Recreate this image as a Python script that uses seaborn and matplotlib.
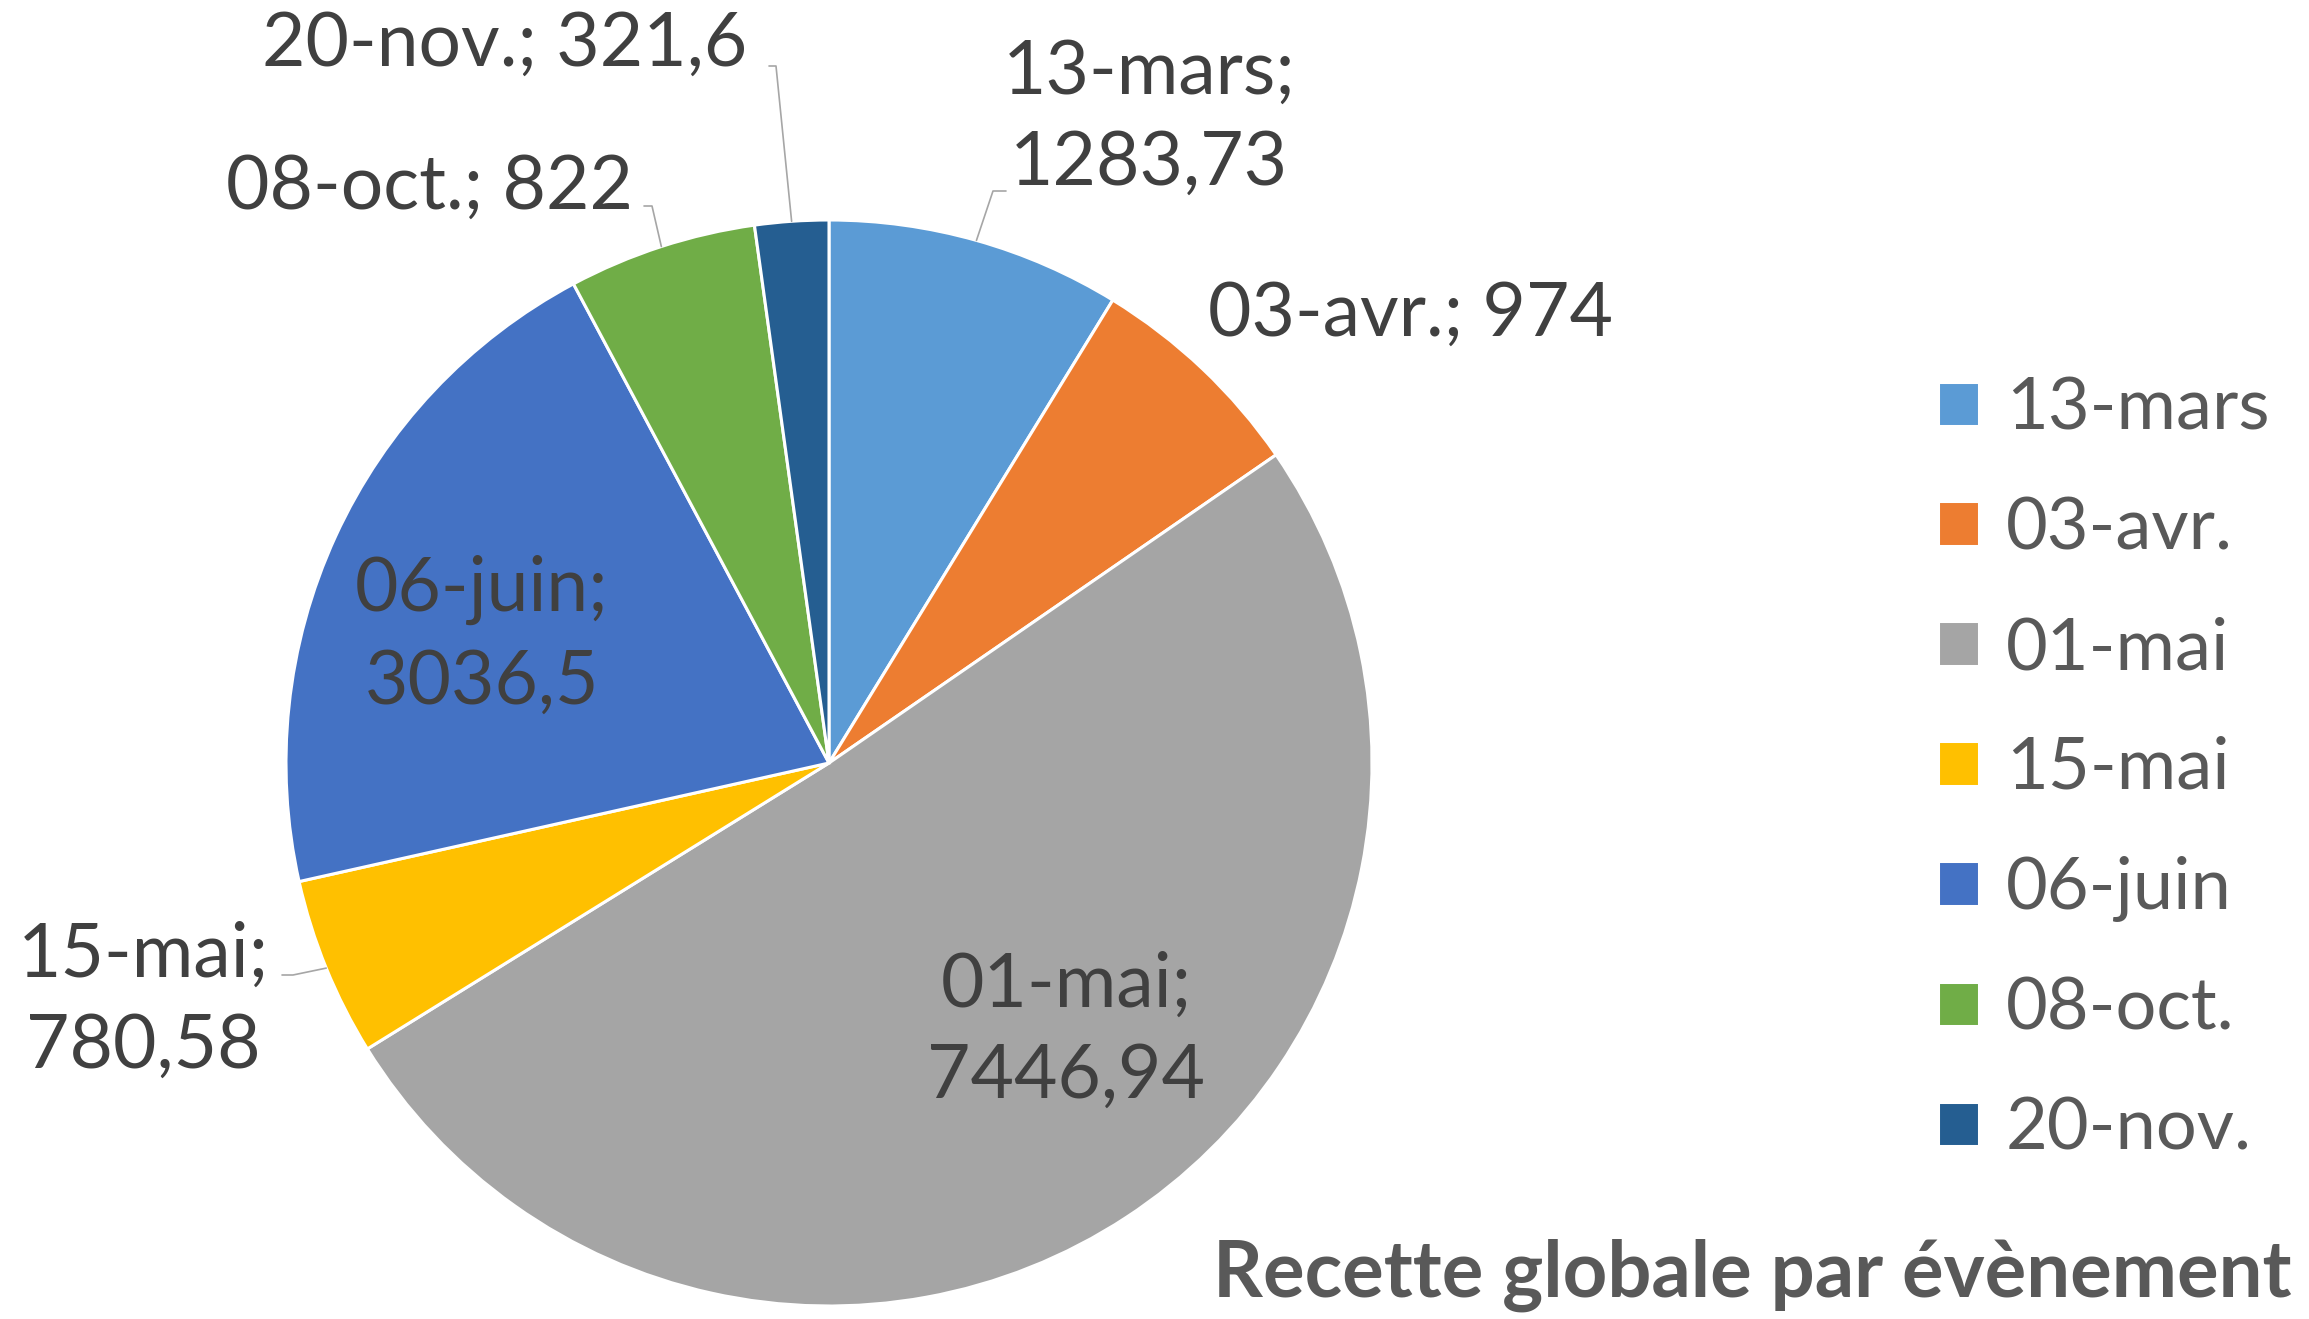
import matplotlib
matplotlib.use("Agg")
import matplotlib.pyplot as plt
import numpy as np
import seaborn as sns

# data
events = ["13-mars", "03-avr.", "01-mai", "15-mai", "06-juin", "08-oct.", "20-nov."]
recette = [1283.73, 974, 7446.94, 780.58, 3036.5, 822, 321.6]
value_labels = ["1283,73", "974", "7446,94", "780,58", "3036,5", "822", "321,6"]
colors = ["#5B9BD5", "#ED7D31", "#A5A5A5", "#FFC000", "#4472C4", "#70AD47", "#255E91"]

# label layout (pixel space, origin bottom-left), one line or two
label_pos = [(1149, 1201), (1411, 1005), (1066, 288), (143, 318), (482, 683), (429, 1132), (505, 1275)]
two_lines = [True, False, True, True, True, False, False]
# leader lines: elbow and end point, None when label sits inside
leaders = [((993, 1128), (1006, 1128)), None, None, ((293, 344), (282, 344)),
           None, ((652, 1113), (644, 1113)), ((776, 1253), (769, 1253))]

W, H = 2309, 1319
CX, CY, R = 829, 556, 543

sns.set_theme(style="white")
plt.rcParams["font.family"] = ["Lato", "DejaVu Sans"]

fig = plt.figure(figsize=(W / 100, H / 100), dpi=100)
ax = fig.add_axes([0, 0, 1, 1])

pal = sns.color_palette(colors)
wedges, _ = ax.pie(recette, colors=pal, startangle=90, counterclock=False,
                   center=(CX, CY), radius=R, frame=True,
                   wedgeprops=dict(edgecolor="white", linewidth=2.2))
ax.set_xlim(0, W)
ax.set_ylim(0, H)
ax.set_aspect("equal")
ax.axis("off")

for i, w in enumerate(wedges):
    sep = "\n" if two_lines[i] else " "
    txt = f"{events[i]};{sep}{value_labels[i]}"
    x, y = label_pos[i]
    ax.text(x, y, txt, ha="center", va="center", fontsize=54, color="#404040",
            linespacing=1.4)
    if leaders[i] is not None:
        mid = np.deg2rad((w.theta1 + w.theta2) / 2)
        px, py = CX + R * np.cos(mid), CY + R * np.sin(mid)
        (ex, ey), (tx, ty) = leaders[i]
        ax.plot([px, ex, tx], [py, ey, ty], color="#A6A6A6", lw=1.2)

leg = ax.legend(wedges, events, loc="center left", bbox_to_anchor=(1938 / W, 550 / H),
                bbox_transform=fig.transFigure, frameon=False, fontsize=52,
                handlelength=0.57, handleheight=0.57, handletextpad=0.37,
                labelspacing=0.76, borderpad=0, borderaxespad=0)
for t in leg.get_texts():
    t.set_color("#595959")

ax.text(1752, 44, "Recette globale par évènement", ha="center", va="center",
        fontsize=56, fontweight="bold", color="#595959")

fig.savefig("out.png", dpi=100)
